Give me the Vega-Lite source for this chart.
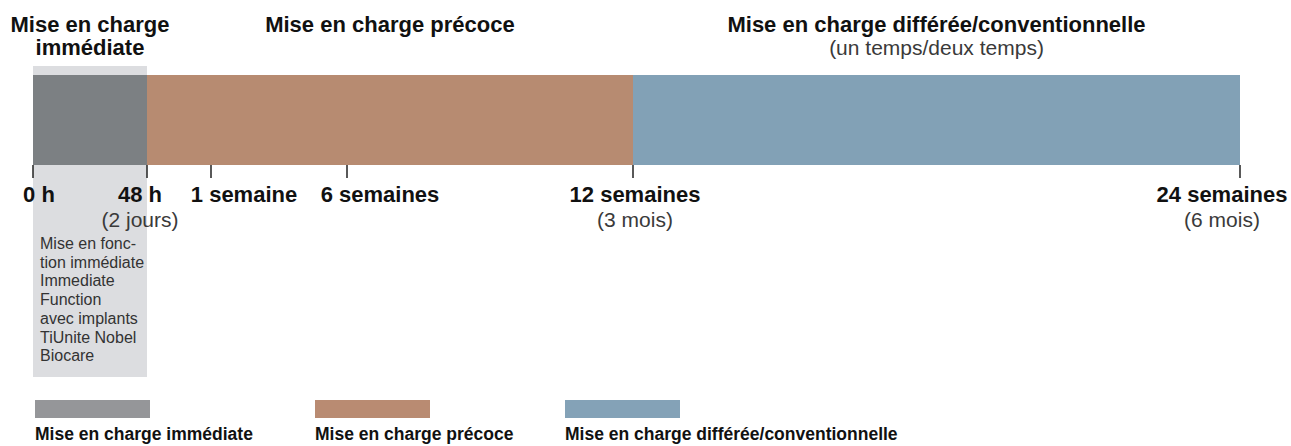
{
  "$schema": "https://vega.github.io/schema/vega-lite/v6.json",
  "width": 1291,
  "height": 446,
  "padding": 0,
  "autosize": {"type": "none"},
  "background": "white",
  "config": {"view": {"stroke": null}, "font": "Liberation Sans", "text": {"font": "Liberation Sans"}},
  "datasets": {
    "phases": [
      {"order": 1, "phase": "Mise en charge immédiate", "start": 0, "end": 2, "at": 1, "title": ["Mise en charge", "immédiate"], "subtitle": "", "remark": ["Mise en fonc-", "tion immédiate", "Immediate", "Function", "avec implants", "TiUnite Nobel", "Biocare"]},
      {"order": 2, "phase": "Mise en charge précoce", "start": 2, "end": 84, "at": 48.3, "title": "Mise en charge précoce", "subtitle": "", "remark": ""},
      {"order": 3, "phase": "Mise en charge différée/conventionnelle", "start": 84, "end": 168, "at": 126, "title": "Mise en charge différée/conventionnelle", "subtitle": "(un temps/deux temps)", "remark": ""}
    ],
    "ticks": [
      {"day": 0, "label": "0 h", "sub": ""},
      {"day": 2, "label": "48 h", "sub": "(2 jours)"},
      {"day": 7, "label": "1 semaine", "sub": ""},
      {"day": 42, "label": "6 semaines", "sub": ""},
      {"day": 84, "label": "12 semaines", "sub": "(3 mois)"},
      {"day": 168, "label": "24 semaines", "sub": "(6 mois)"}
    ]
  },
  "resolve": {"scale": {"x": "independent", "color": "independent"}},
  "layer": [
    {
      "layer": [
        {
          "data": {"name": "phases"},
          "transform": [{"filter": "datum.order == 1"}],
          "mark": {"type": "rect", "color": "#dcdde0"},
          "encoding": {
            "x": {"field": "start", "type": "quantitative", "axis": null, "scale": {"domain": [0, 2, 7, 42, 84, 168], "range": [33, 147, 211, 347, 633, 1240], "nice": false, "zero": false}},
            "x2": {"field": "end"},
            "y": {"datum": 66, "type": "quantitative", "axis": null, "scale": {"domain": [0, 446], "reverse": true, "nice": false, "zero": false}},
            "y2": {"datum": 377}
          }
        },
        {
          "data": {"name": "phases"},
          "mark": {"type": "rect"},
          "encoding": {
            "x": {"field": "start", "type": "quantitative", "axis": null, "scale": {"domain": [0, 2, 7, 42, 84, 168], "range": [33, 147, 211, 347, 633, 1240], "nice": false, "zero": false}},
            "x2": {"field": "end"},
            "y": {"datum": 75, "type": "quantitative", "axis": null, "scale": {"domain": [0, 446], "reverse": true, "nice": false, "zero": false}},
            "y2": {"datum": 165},
            "color": {"field": "phase", "type": "nominal", "legend": null, "scale": {"domain": ["Mise en charge immédiate", "Mise en charge précoce", "Mise en charge différée/conventionnelle"], "range": ["#7c8083", "#b78b71", "#82a1b6"]}}
          }
        },
        {
          "data": {"name": "ticks"},
          "mark": {"type": "rule", "color": "#222222", "strokeWidth": 1.5},
          "encoding": {
            "x": {"field": "day", "type": "quantitative", "axis": null},
            "y": {"datum": 165, "type": "quantitative", "axis": null},
            "y2": {"datum": 178}
          }
        },
        {
          "data": {"name": "ticks"},
          "transform": [{"filter": "datum.day == 0"}],
          "mark": {"type": "text", "fontWeight": "bold", "fontSize": 22, "align": "center", "baseline": "alphabetic", "dx": 6, "color": "#111111"},
          "encoding": {"x": {"field": "day", "type": "quantitative", "axis": null}, "y": {"datum": 202, "type": "quantitative", "axis": null}, "text": {"field": "label"}}
        },
        {
          "data": {"name": "ticks"},
          "transform": [{"filter": "datum.day == 2"}],
          "mark": {"type": "text", "fontWeight": "bold", "fontSize": 22, "align": "center", "baseline": "alphabetic", "dx": -7, "color": "#111111"},
          "encoding": {"x": {"field": "day", "type": "quantitative", "axis": null}, "y": {"datum": 202, "type": "quantitative", "axis": null}, "text": {"field": "label"}}
        },
        {
          "data": {"name": "ticks"},
          "transform": [{"filter": "datum.day == 7 || datum.day == 42"}],
          "mark": {"type": "text", "fontWeight": "bold", "fontSize": 22, "align": "center", "baseline": "alphabetic", "dx": 33, "color": "#111111"},
          "encoding": {"x": {"field": "day", "type": "quantitative", "axis": null}, "y": {"datum": 202, "type": "quantitative", "axis": null}, "text": {"field": "label"}}
        },
        {
          "data": {"name": "ticks"},
          "transform": [{"filter": "datum.day == 84"}],
          "mark": {"type": "text", "fontWeight": "bold", "fontSize": 22, "align": "center", "baseline": "alphabetic", "dx": 2, "color": "#111111"},
          "encoding": {"x": {"field": "day", "type": "quantitative", "axis": null}, "y": {"datum": 202, "type": "quantitative", "axis": null}, "text": {"field": "label"}}
        },
        {
          "data": {"name": "ticks"},
          "transform": [{"filter": "datum.day == 168"}],
          "mark": {"type": "text", "fontWeight": "bold", "fontSize": 22, "align": "center", "baseline": "alphabetic", "dx": -18, "color": "#111111"},
          "encoding": {"x": {"field": "day", "type": "quantitative", "axis": null}, "y": {"datum": 202, "type": "quantitative", "axis": null}, "text": {"field": "label"}}
        },
        {
          "data": {"name": "ticks"},
          "transform": [{"filter": "datum.day == 2"}],
          "mark": {"type": "text", "fontSize": 21, "align": "center", "baseline": "alphabetic", "dx": -7, "color": "#3a3a3a"},
          "encoding": {"x": {"field": "day", "type": "quantitative", "axis": null}, "y": {"datum": 227, "type": "quantitative", "axis": null}, "text": {"field": "sub"}}
        },
        {
          "data": {"name": "ticks"},
          "transform": [{"filter": "datum.day == 84"}],
          "mark": {"type": "text", "fontSize": 21, "align": "center", "baseline": "alphabetic", "dx": 2, "color": "#3a3a3a"},
          "encoding": {"x": {"field": "day", "type": "quantitative", "axis": null}, "y": {"datum": 227, "type": "quantitative", "axis": null}, "text": {"field": "sub"}}
        },
        {
          "data": {"name": "ticks"},
          "transform": [{"filter": "datum.day == 168"}],
          "mark": {"type": "text", "fontSize": 21, "align": "center", "baseline": "alphabetic", "dx": -18, "color": "#3a3a3a"},
          "encoding": {"x": {"field": "day", "type": "quantitative", "axis": null}, "y": {"datum": 227, "type": "quantitative", "axis": null}, "text": {"field": "sub"}}
        },
        {
          "data": {"name": "phases"},
          "mark": {"type": "text", "fontWeight": "bold", "fontSize": 22, "align": "center", "baseline": "alphabetic", "lineHeight": 23, "color": "#111111"},
          "encoding": {"x": {"field": "at", "type": "quantitative", "axis": null}, "y": {"datum": 32, "type": "quantitative", "axis": null}, "text": {"field": "title"}}
        },
        {
          "data": {"name": "phases"},
          "transform": [{"filter": "datum.subtitle != ''"}],
          "mark": {"type": "text", "fontSize": 21, "align": "center", "baseline": "alphabetic", "color": "#3a3a3a"},
          "encoding": {"x": {"field": "at", "type": "quantitative", "axis": null}, "y": {"datum": 55, "type": "quantitative", "axis": null}, "text": {"field": "subtitle"}}
        },
        {
          "data": {"name": "phases"},
          "transform": [{"filter": "datum.order == 1"}],
          "mark": {"type": "text", "fontSize": 16, "align": "left", "baseline": "alphabetic", "lineHeight": 18.7, "dx": 7, "color": "#333333"},
          "encoding": {"x": {"field": "start", "type": "quantitative", "axis": null}, "y": {"datum": 249, "type": "quantitative", "axis": null}, "text": {"field": "remark"}}
        }
      ]
    },
    {
      "data": {"name": "phases"},
      "layer": [
        {
          "mark": {"type": "tick", "orient": "horizontal", "size": 115, "thickness": 18, "opacity": 1},
          "encoding": {
            "x": {"field": "order", "type": "quantitative", "axis": null, "scale": {"domain": [1, 2, 3], "range": [92.5, 372.5, 622.5], "nice": false, "zero": false}},
            "y": {"datum": 409, "type": "quantitative", "axis": null, "scale": {"domain": [0, 446], "reverse": true, "nice": false, "zero": false}},
            "color": {"field": "phase", "type": "nominal", "legend": null, "scale": {"domain": ["Mise en charge immédiate", "Mise en charge précoce", "Mise en charge différée/conventionnelle"], "range": ["#959699", "#b98b72", "#84a2b7"]}}
          }
        },
        {
          "mark": {"type": "text", "font": "Liberation Sans", "fontWeight": "bold", "fontSize": 17.5, "align": "left", "baseline": "alphabetic", "dx": -57.5, "color": "#111111"},
          "encoding": {
            "x": {"field": "order", "type": "quantitative", "axis": null},
            "y": {"datum": 440, "type": "quantitative", "axis": null},
            "text": {"field": "phase"}
          }
        }
      ]
    }
  ]
}
